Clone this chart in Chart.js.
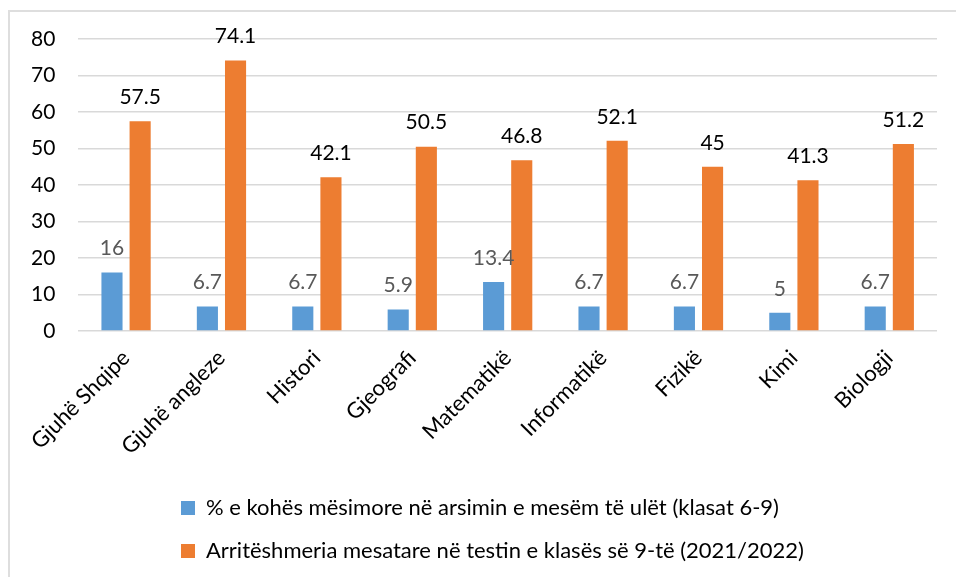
<!DOCTYPE html>
<html lang="sq">
<head>
    <meta charset="UTF-8">
    <title>Koha mësimore dhe arritshmëria</title>

    <!-- chart.js -->
    <script src="https://cdn.jsdelivr.net/npm/chart.js"></script>

    <style>
        body { margin: 0; background: #fff; }
        #frame {
            position: absolute; left: 8px; top: 10px;
            width: 1000px; height: 1000px;
            border-left: 2px solid #dedede; border-top: 2px solid #dedede;
        }
        #wrap { position: absolute; left: 0; top: 0; width: 956px; height: 577px; }
    </style>
</head>
<body>
    <div id="frame"></div>
    <div id="wrap">
        <canvas id="myChart" width="956" height="577"></canvas>
    </div>

    <script>
        // lëndët
        const subjects = ['Gjuhë Shqipe', 'Gjuhë angleze', 'Histori', 'Gjeografi', 'Matematikë', 'Informatikë', 'Fizikë', 'Kimi', 'Biologji'];

        // % e kohës mësimore
        const timeShare = [16, 6.7, 6.7, 5.9, 13.4, 6.7, 6.7, 5, 6.7];

        // arritshmëria mesatare
        const avgScore = [57.5, 74.1, 42.1, 50.5, 46.8, 52.1, 45, 41.3, 51.2];

        const seriesNames = [
            '% e kohës mësimore në arsimin e mesëm të ulët (klasat 6-9)',
            'Arritëshmeria mesatare në testin e klasës së 9-të (2021/2022)'
        ];

        const yTicks = [0, 10, 20, 30, 40, 50, 60, 70, 80];

        const fontFamily = 'Lato, "Open Sans", sans-serif';

        // vlerat mbi shtylla
        const valueLabels = {
            id: 'valueLabels',
            afterDatasetsDraw(chart) {
                const ctx = chart.ctx;
                const colors = ['#595959', '#000000'];
                ctx.save();
                ctx.font = '21px ' + fontFamily;
                ctx.textAlign = 'center';
                ctx.textBaseline = 'middle';
                chart.data.datasets.forEach((ds, i) => {
                    ctx.fillStyle = colors[i];
                    chart.getDatasetMeta(i).data.forEach((bar, j) => {
                        ctx.fillText(String(ds.data[j]), bar.x, bar.y - 24);
                    });
                });
                ctx.restore();
            }
        };

        // legjenda majtas, si ne Excel
        const legendLeft = {
            id: 'legendLeft',
            afterLayout(chart) {
                chart.legend.left = 160;
            }
        };

        const ctx = document.querySelector('#myChart').getContext('2d');

        const myChart = new Chart(ctx, {
            type: 'bar',
            data: {
                labels: subjects,
                datasets: [{
                    label: seriesNames[0],
                    data: timeShare,
                    backgroundColor: '#5b9bd5'
                }, {
                    label: seriesNames[1],
                    data: avgScore,
                    backgroundColor: '#ed7d31'
                }]
            },
            options: {
                responsive: false,
                animation: false,
                devicePixelRatio: 1,
                categoryPercentage: 0.59,
                barPercentage: 0.75,
                layout: {
                    padding: { left: 8, right: 19, top: 39, bottom: 5 }
                },
                scales: {
                    x: {
                        grid: { display: false },
                        border: { display: false },
                        ticks: {
                            color: '#000',
                            font: { family: fontFamily, size: 22 },
                            maxRotation: 45,
                            minRotation: 45,
                            padding: 6
                        },
                        afterFit: (axis) => {
                            axis.height = 145;
                            axis.paddingLeft = 0;
                            axis.paddingRight = 0;
                        }
                    },
                    y: {
                        min: 0,
                        max: 80,
                        afterBuildTicks: (axis) => { axis.ticks = yTicks.map(v => ({ value: v })); },
                        grid: { color: '#d9d9d9', lineWidth: 1.5, drawTicks: false },
                        border: { display: false },
                        ticks: {
                            color: '#000',
                            font: { family: fontFamily, size: 21 },
                            padding: 23
                        }
                    }
                },
                plugins: {
                    tooltip: { enabled: false },
                    legend: {
                        position: 'bottom',
                        align: 'start',
                        labels: {
                            color: '#000',
                            font: { family: fontFamily, size: 22 },
                            boxWidth: 14,
                            boxHeight: 14,
                            padding: 21
                        }
                    }
                }
            },
            plugins: [valueLabels, legendLeft]
        });
    </script>
</body>
</html>
